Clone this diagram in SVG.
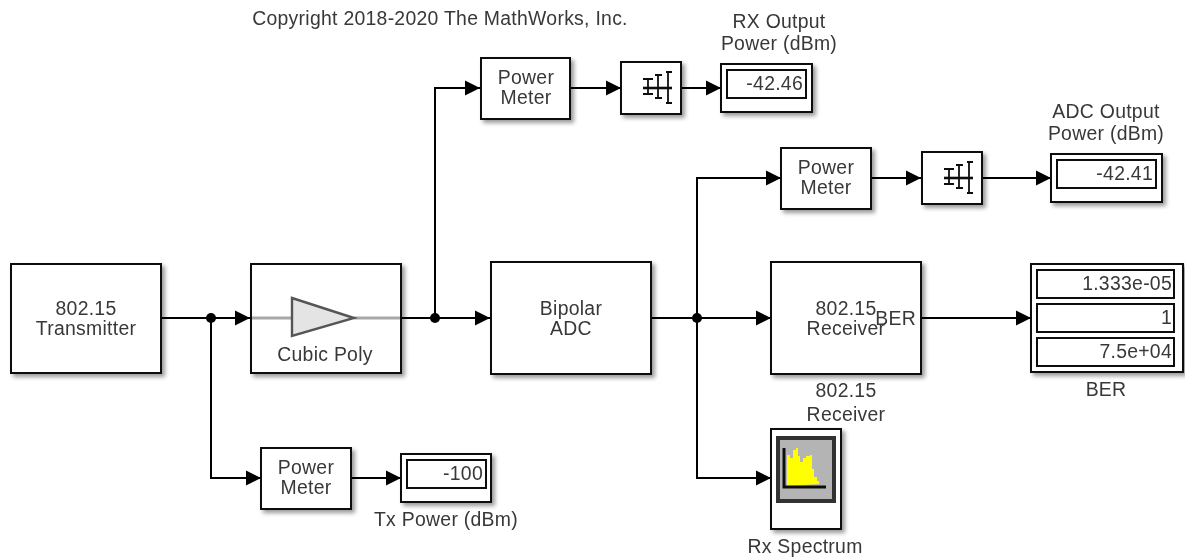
<svg xmlns="http://www.w3.org/2000/svg" width="1185" height="559" viewBox="0 0 1185 559">
<defs>
<marker id="a" markerUnits="userSpaceOnUse" markerWidth="16" markerHeight="16" refX="15" refY="8" orient="auto"><path d="M0 .5L15 8L0 15.5Z" fill="#000"/></marker>
<filter id="s" x="-10%" y="-10%" width="125%" height="125%"><feDropShadow dx="3" dy="3" stdDeviation="2" flood-color="#000" flood-opacity=".4"/></filter>
<filter id="soft" filterUnits="userSpaceOnUse" x="0" y="0" width="1185" height="559"><feGaussianBlur stdDeviation="0.5"/></filter>
</defs>
<style>
text{font-family:"Liberation Sans",Arial,sans-serif;font-size:19.4px;letter-spacing:.28px;fill:#383838}
.m{text-anchor:middle}.e{text-anchor:end}
.b{fill:#fff;stroke:#111;stroke-width:2;filter:url(#s)}
.i{fill:#fff;stroke:#111;stroke-width:2}
.w{fill:none;stroke:#000;stroke-width:2}
.g{fill:none;stroke:#111;stroke-width:1.8}
.d{fill:#000}
</style>
<g filter="url(#soft)">
<text id="copyright" x="440" y="25" class="m">Copyright 2018-2020 The MathWorks, Inc.</text>
<g id="connectors">
<path class="w" d="M161 318H250" marker-end="url(#a)"/>
<path class="w" d="M211 318V478H261" marker-end="url(#a)"/>
<path class="w" d="M401 318H490" marker-end="url(#a)"/>
<path class="w" d="M435 318V88H480" marker-end="url(#a)"/>
<path class="w" d="M570 88H621" marker-end="url(#a)"/>
<path class="w" d="M681 88H721" marker-end="url(#a)"/>
<path class="w" d="M651 318H771" marker-end="url(#a)"/>
<path class="w" d="M697 318V178H781" marker-end="url(#a)"/>
<path class="w" d="M697 318V478H771" marker-end="url(#a)"/>
<path class="w" d="M871 178H921" marker-end="url(#a)"/>
<path class="w" d="M982 178H1051" marker-end="url(#a)"/>
<path class="w" d="M921 318H1031" marker-end="url(#a)"/>
<path class="w" d="M351 478H401" marker-end="url(#a)"/>
<circle class="d" cx="211" cy="318" r="5"/><circle class="d" cx="435" cy="318" r="5"/><circle class="d" cx="697" cy="318" r="5"/>
</g>
<g id="tx"><rect class="b" x="11" y="264" width="150" height="109"/><text x="86" y="315" class="m">802.15</text><text x="86" y="335" class="m">Transmitter</text></g>
<g id="cubic"><rect class="b" x="251" y="264" width="150" height="109"/><path d="M252 318H292M354 318H400" fill="none" stroke="#a8a8a8" stroke-width="3"/><path d="M292 298L354 318L292 336Z" fill="#e4e4e4" stroke="#555" stroke-width="2.4"/><text x="325" y="361" class="m">Cubic Poly</text></g>
<g id="adc"><rect class="b" x="491" y="262" width="160" height="112"/><text x="571" y="315" class="m">Bipolar</text><text x="571" y="335" class="m">ADC</text></g>
<g id="rx"><rect class="b" x="771" y="262" width="150" height="112"/><text x="846" y="315" class="m">802.15</text><text x="846" y="335" class="m">Receiver</text><text x="916" y="325" class="e">BER</text><text x="846" y="397" class="m">802.15</text><text x="846" y="421" class="m">Receiver</text></g>
<g id="pm1"><rect class="b" x="481" y="58" width="89" height="61"/><text x="526" y="84" class="m">Power</text><text x="526" y="104" class="m">Meter</text></g>
<g id="pm2"><rect class="b" x="781" y="148" width="90" height="61"/><text x="826" y="174" class="m">Power</text><text x="826" y="194" class="m">Meter</text></g>
<g id="pm3"><rect class="b" x="261" y="448" width="90" height="61"/><text x="306" y="474" class="m">Power</text><text x="306" y="494" class="m">Meter</text></g>
<g id="conv1"><rect class="b" x="621" y="62" width="60" height="52"/><path class="g" d="M643 79h10M643 94h10M648 79v15M655 75h7M655 98h7M658 75v23M666 72h6M666 103h6M668 72v31"/><path d="M643 88H672" stroke="#111" stroke-width="2.6"/></g>
<g id="conv2"><rect class="b" x="922" y="152" width="60" height="52"/><path class="g" d="M944 169h10M944 184h10M949 169v15M956 165h7M956 188h7M959 165v23M967 162h6M967 193h6M969 162v31"/><path d="M944 178H973" stroke="#111" stroke-width="2.6"/></g>
<g id="d1"><rect class="b" x="721" y="64" width="91" height="48"/><rect class="i" x="727" y="70" width="79" height="28"/><text x="803" y="90" class="e">-42.46</text><text x="779" y="28" class="m">RX Output</text><text x="779" y="50" class="m">Power (dBm)</text></g>
<g id="d2"><rect class="b" x="1051" y="154" width="111" height="48"/><rect class="i" x="1057" y="160" width="99" height="28"/><text x="1153" y="180" class="e">-42.41</text><text x="1106" y="118" class="m">ADC Output</text><text x="1106" y="140" class="m">Power (dBm)</text></g>
<g id="d3"><rect class="b" x="401" y="454" width="90" height="48"/><rect class="i" x="407" y="460" width="79" height="28"/><text x="483" y="480" class="e">-100</text><text x="446" y="526" class="m">Tx Power (dBm)</text></g>
<g id="ber"><rect class="b" x="1031" y="264" width="152" height="108"/><rect class="i" x="1037" y="270" width="137" height="28"/><rect class="i" x="1037" y="304" width="137" height="28"/><rect class="i" x="1037" y="338" width="137" height="28"/><text x="1172" y="290" class="e">1.333e-05</text><text x="1172" y="324" class="e">1</text><text x="1172" y="358" class="e">7.5e+04</text><text x="1106" y="396" class="m">BER</text></g>
<g id="spec"><rect class="b" x="771" y="429" width="70" height="100"/><rect x="778" y="438" width="56" height="63" fill="#b4b4b4" stroke="#333" stroke-width="4"/><path d="M787 486V455h3v3h3v-8h3v-2h2v8h2v6h3v-4h3v-2h4v-1h2v14h2v8h3v4h2v3Z" fill="#ff0"/><path d="M784 448V487H826" fill="none" stroke="#111" stroke-width="3"/><text x="805" y="553" class="m">Rx Spectrum</text></g>
</g>
</svg>
